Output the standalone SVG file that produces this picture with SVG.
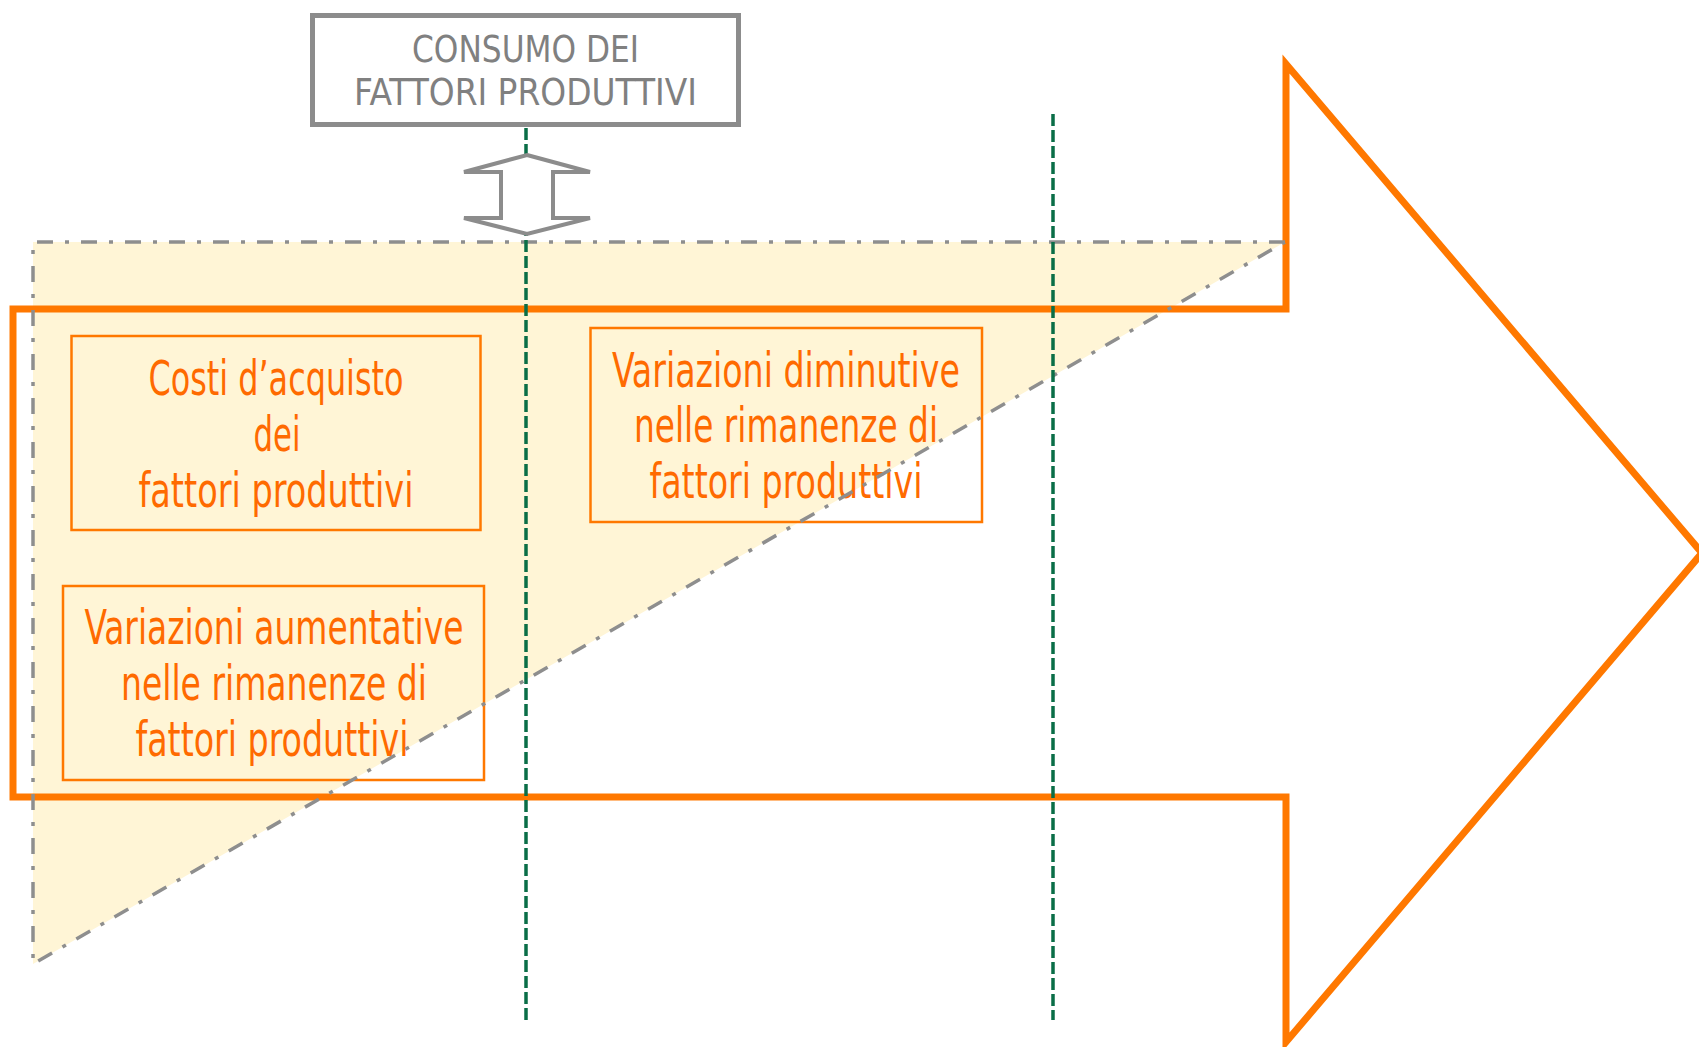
<svg xmlns="http://www.w3.org/2000/svg" width="1699" height="1047" viewBox="0 0 1699 1047">
<style>
.bg{fill:#ffffff}
.tri{fill:#FFF5D6;stroke:none}
.triline{fill:none;stroke:#8E8E8E;stroke-width:3.5;stroke-dasharray:16 12 4 12}
.grn{stroke:#0A6E47;stroke-width:3.5;stroke-dasharray:12 4;fill:none}
.big{fill:none;stroke:#FF7800;stroke-width:7;stroke-linejoin:miter;stroke-miterlimit:10}
.box{fill:none;stroke:#FF7800;stroke-width:2.5}
.otxt{fill:#FF6A00;font-family:"Liberation Sans Narrow","DejaVu Sans Condensed","Liberation Sans",sans-serif;font-stretch:condensed;font-size:48px;text-anchor:middle}
.gtxt{fill:#808080;font-family:"Liberation Sans Narrow","DejaVu Sans Condensed","Liberation Sans",sans-serif;font-stretch:condensed;font-size:37px;text-anchor:middle}
.tbox{fill:#ffffff;stroke:#8C8C8C;stroke-width:5}
.darr{fill:#ffffff;stroke:#8C8C8C;stroke-width:4;stroke-linejoin:miter}
</style>
<rect class="bg" x="0" y="0" width="1699" height="1047"/>
<g id="area">
<polygon class="tri" points="33,242 1285,242 33,964"/>
</g>
<g id="box-costi">
<rect class="box" x="71.5" y="336" width="409" height="194"/>
<text class="otxt" x="276" y="395" textLength="255" lengthAdjust="spacingAndGlyphs">Costi d’acquisto</text>
<text class="otxt" x="277" y="451" textLength="47" lengthAdjust="spacingAndGlyphs">dei</text>
<text class="otxt" x="276" y="507" textLength="275" lengthAdjust="spacingAndGlyphs">fattori produttivi</text>
</g>
<g id="box-aumentative">
<rect class="box" x="63" y="586" width="421" height="194"/>
<text class="otxt" x="274" y="644" textLength="379" lengthAdjust="spacingAndGlyphs">Variazioni aumentative</text>
<text class="otxt" x="274" y="700" textLength="306" lengthAdjust="spacingAndGlyphs">nelle rimanenze di</text>
<text class="otxt" x="272" y="756" textLength="273" lengthAdjust="spacingAndGlyphs">fattori produttivi</text>
</g>
<g id="box-diminutive">
<rect class="box" x="590.5" y="328" width="391.5" height="194"/>
<text class="otxt" x="786" y="387" textLength="348" lengthAdjust="spacingAndGlyphs">Variazioni diminutive</text>
<text class="otxt" x="786" y="442" textLength="304" lengthAdjust="spacingAndGlyphs">nelle rimanenze di</text>
<text class="otxt" x="786" y="498" textLength="273" lengthAdjust="spacingAndGlyphs">fattori produttivi</text>
</g>
<g id="big-arrow">
<path class="big" d="M13,309 H1286 V64 L1702,553 L1286,1042 V797 H13 Z"/>
</g>
<g id="connectors">
<polyline class="triline" points="1285,242 33,242 33,964 1285,242"/>
<line class="grn" x1="526" y1="128" x2="526" y2="1020"/>
<line class="grn" x1="1053" y1="114" x2="1053" y2="1020"/>
<polygon class="darr" points="527,155 590,172 553,172 553,218 590,218 527,234 464,218 501,218 501,172 464,172"/>
</g>
<g id="box-consumo">
<rect class="tbox" x="312.5" y="15.5" width="426" height="109"/>
<text class="gtxt" x="525.5" y="62" textLength="227" lengthAdjust="spacingAndGlyphs">CONSUMO DEI</text>
<text class="gtxt" x="525.5" y="105" textLength="343" lengthAdjust="spacingAndGlyphs">FATTORI PRODUTTIVI</text>
</g>
</svg>
